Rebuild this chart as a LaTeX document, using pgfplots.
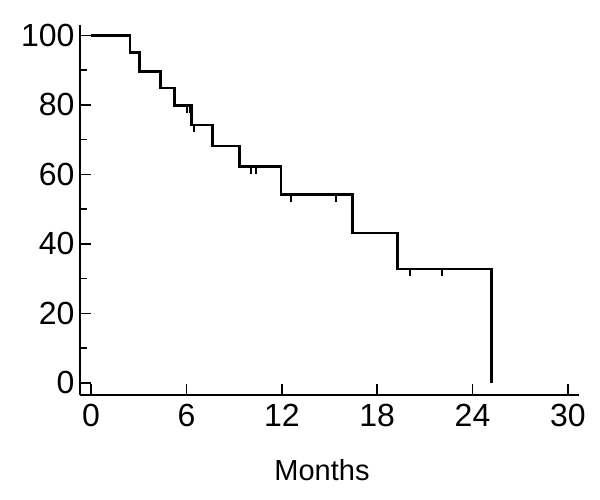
\documentclass[border=0pt]{standalone}
\usepackage{fontspec}
\setmainfont{Liberation Sans}
\usepackage{pgfplots}
\pgfplotsset{compat=1.18}
\pgfdeclareplotmark{cens}{%
  \pgfpathmoveto{\pgfpoint{0pt}{0pt}}%
  \pgfpathlineto{\pgfpoint{0pt}{-7pt}}%
  \pgfusepathqstroke}
\begin{document}
\begin{tikzpicture}
\path[use as bounding box] (-80pt,-105pt) rectangle (520pt,395pt);
\begin{axis}[scale only axis, width=499pt, height=370pt,
    xmin=-0.7, xmax=30.7, ymin=-3.5, ymax=103,
    axis lines=left, axis line style={-, line width=2pt, black},
    xtick={0,6,...,30}, ytick={0,20,...,100}, minor y tick num=1,
    tick align=inside, major tick length=11pt, minor tick length=7pt,
    tick style={line width=1.6pt, black},
    /pgf/number format/assume math mode=true,
    tick label style={font=\fontsize{32}{38}\selectfont},
    xticklabel style={yshift=-6pt},
    yticklabel style={xshift=-2pt},
    xlabel={Months}, label style={font=\fontsize{29}{35}\selectfont},
    xlabel style={at={(axis description cs:0.485,0)}, anchor=center, yshift=-75pt},
    clip=false]
\addplot[const plot mark left, line width=2.6pt, black, mark=none] coordinates {
  (0,100) (2.45,95) (3.04,89.7) (4.38,84.9) (5.24,79.8) (6.33,74.2)
  (7.63,68.2) (9.33,62.2) (11.95,54.2) (16.46,43.1) (19.26,32.8) (25.2,0)};
\addplot[only marks, mark=cens, line width=1.8pt, black] coordinates {
  (6.02,79.8) (6.23,79.8) (6.48,74.2) (10.04,62.2) (10.36,62.2)
  (12.6,54.2) (15.4,54.2) (20.06,32.8) (22.1,32.8)};
\end{axis}
\end{tikzpicture}
\end{document}
